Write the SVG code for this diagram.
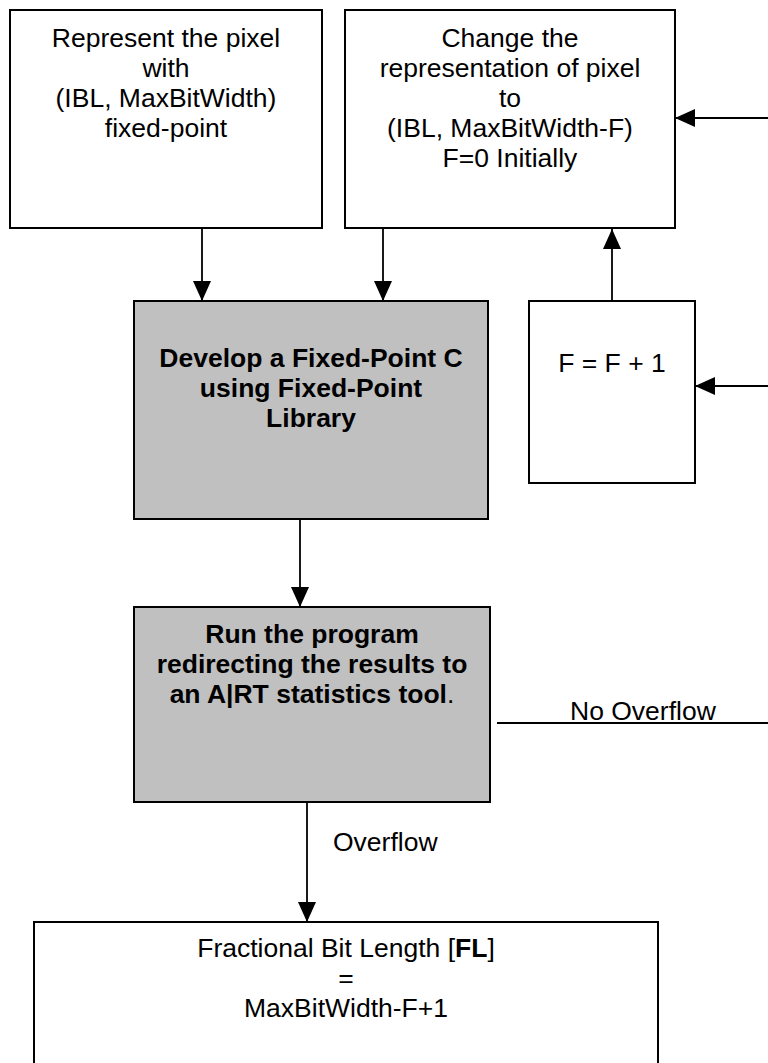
<svg xmlns="http://www.w3.org/2000/svg" width="768" height="1063" viewBox="0 0 768 1063">
  <style>
    .box { fill: #ffffff; stroke: #000000; stroke-width: 2; }
    .gray { fill: #c0c0c0; stroke: #000000; stroke-width: 2; }
    .label { font-family: "Liberation Sans", Arial, sans-serif; font-size: 26.5px; fill: #000000; text-anchor: middle; }
    .bold { font-weight: bold; }
    .plain { font-family: "Liberation Sans", Arial, sans-serif; font-size: 26.5px; fill: #000000; }
    .conn { fill: none; stroke: #000000; stroke-width: 1.8; }
    .arrow { marker-end: url(#head); }
  </style>
  <defs>
    <marker id="head" markerUnits="userSpaceOnUse" markerWidth="20" markerHeight="18" refX="20" refY="9" orient="auto">
      <path d="M0,0 L20,9 L0,18 Z" fill="#000000"/>
    </marker>
  </defs>

  <!-- Connectors -->
  <g id="connectors">
    <line class="conn arrow" x1="202" y1="228" x2="202" y2="301"/>
    <line class="conn arrow" x1="383" y1="228" x2="383" y2="301"/>
    <line class="conn arrow" x1="300" y1="519" x2="300" y2="607"/>
    <line class="conn arrow" x1="612" y1="301" x2="612" y2="229"/>
    <line class="conn arrow" x1="768" y1="118" x2="675" y2="118"/>
    <line class="conn arrow" x1="768" y1="386" x2="695" y2="386"/>
    <line class="conn" x1="497" y1="723" x2="768" y2="723"/>
    <line class="conn arrow" x1="307" y1="802" x2="307" y2="922"/>
    <text class="plain" x="570" y="720">No Overflow</text>
    <text class="plain" x="333" y="851">Overflow</text>
  </g>

  <!-- Initial representation -->
  <g id="represent">
    <rect class="box" x="10" y="10" width="312" height="218"/>
    <text class="label" x="166" y="47">Represent the pixel</text>
    <text class="label" x="166" y="77">with</text>
    <text class="label" x="166" y="107">(IBL, MaxBitWidth)</text>
    <text class="label" x="166" y="137">fixed-point</text>
  </g>

  <!-- Changed representation -->
  <g id="change">
    <rect class="box" x="345" y="10" width="330" height="218"/>
    <text class="label" x="510" y="47">Change the</text>
    <text class="label" x="510" y="77">representation of pixel</text>
    <text class="label" x="510" y="107">to</text>
    <text class="label" x="510" y="137">(IBL, MaxBitWidth-F)</text>
    <text class="label" x="510" y="167">F=0 Initially</text>
  </g>

  <!-- Fixed-point C development -->
  <g id="develop">
    <rect class="gray" x="134" y="301" width="354" height="218"/>
    <text class="label bold" x="311" y="367">Develop a Fixed-Point C</text>
    <text class="label bold" x="311" y="397">using Fixed-Point</text>
    <text class="label bold" x="311" y="427">Library</text>
  </g>

  <!-- Increment F -->
  <g id="increment">
    <rect class="box" x="529" y="301" width="166" height="182"/>
    <text class="label" x="612" y="372">F = F + 1</text>
  </g>

  <!-- Run and collect statistics -->
  <g id="run">
    <rect class="gray" x="134" y="607" width="356" height="195"/>
    <text class="label bold" x="312" y="643">Run the program</text>
    <text class="label bold" x="312" y="673">redirecting the results to</text>
    <text class="label" x="312" y="703"><tspan class="bold">an A|RT statistics tool</tspan>.</text>
  </g>

  <!-- Result -->
  <g id="result">
    <rect class="box" x="34" y="922" width="624" height="170"/>
    <text class="label" x="346" y="957">Fractional Bit Length [<tspan class="bold">FL</tspan>]</text>
    <text class="label" x="346" y="987">=</text>
    <text class="label" x="346" y="1017">MaxBitWidth-F+1</text>
  </g>
</svg>
